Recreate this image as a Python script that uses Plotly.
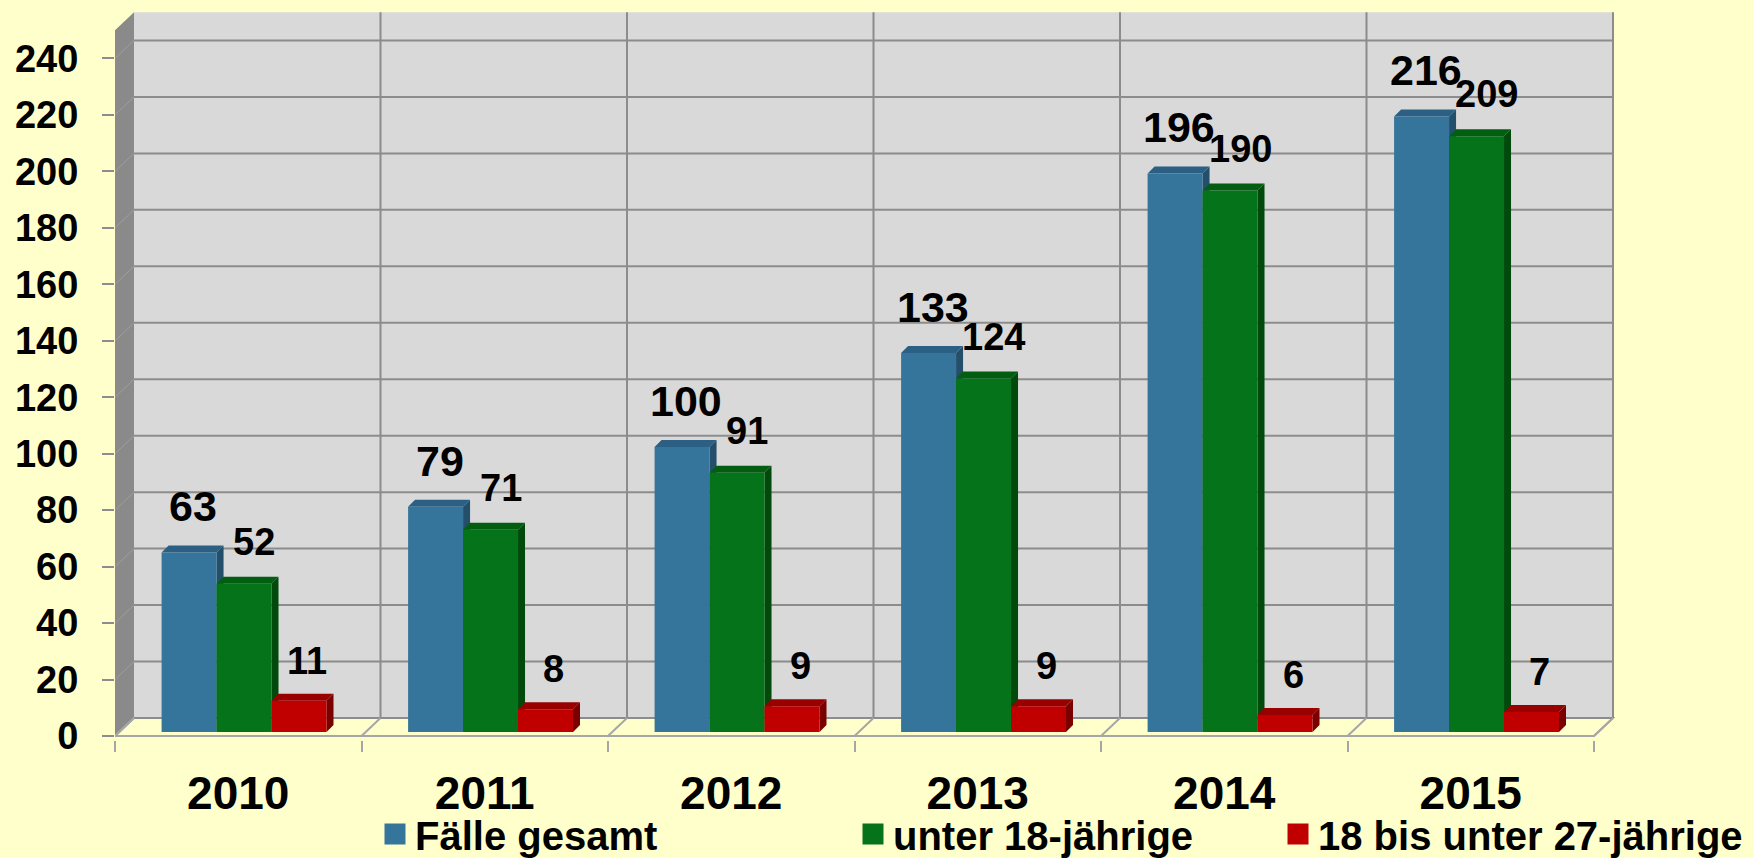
import plotly.graph_objects as go

# ---------------- data ----------------
years = [2010, 2011, 2012, 2013, 2014, 2015]
series_names = ["Fälle gesamt", "unter 18-jährige", "18 bis unter 27-jährige"]
faelle_gesamt = [63, 79, 100, 133, 196, 216]
unter_18 = [52, 71, 91, 124, 190, 209]
von_18_bis_27 = [11, 8, 9, 9, 6, 7]
y_ticks = [0, 20, 40, 60, 80, 100, 120, 140, 160, 180, 200, 220, 240]

# ---------------- styling / geometry ----------------
FONT = "Liberation Sans, Arial, sans-serif"
BG = "#FFFFCC"
WALL = "#D9D9D9"
SIDE_WALL = "#8A8A8A"
GRID = "#8C8C8C"
front_cols = ["#36759B", "#05731A", "#C00000"]
top_cols = ["#2B6084", "#035E12", "#990000"]
side_cols = ["#244F6B", "#024A0C", "#7A0000"]
label_sizes = [43, 38, 38]
label_yshift = [20, 19, 17]
label_xshift = [4, 10, 8]

L_MARGIN, R_MARGIN, T_MARGIN, B_MARGIN = 115, 130, 8, 118
W, H = 1754, 858
px_per_x = 246.5
px_per_y = 2.823          # front (axis) plane
y_zero_px = 736
bar_px_per_y = 2.85       # mid-depth plane where the bars stand
bar_zero_px = 732
plot_bottom_px = H - B_MARGIN

x0 = years[0] - 0.5
x1 = x0 + (W - L_MARGIN - R_MARGIN) / px_per_x
y_min = -(plot_bottom_px - y_zero_px) / px_per_y
y_max = (y_zero_px - T_MARGIN) / px_per_y
y2_min = -(plot_bottom_px - bar_zero_px) / bar_px_per_y
y2_max = (bar_zero_px - T_MARGIN) / bar_px_per_y

wall_dx = 19 / px_per_x
wall_dy = 18 / px_per_y
wall_top = 250 + wall_dy
bar_dx = 7 / px_per_x
bar_dy = 7 / bar_px_per_y
bar_w = 0.223
offsets = [-0.311, -0.088, 0.135]

values = [faelle_gesamt, unter_18, von_18_bis_27]
bounds = [y - 0.5 for y in years] + [years[-1] + 0.5]

fig = go.Figure()

for k, (name, vals) in enumerate(zip(series_names, values)):
    fig.add_trace(go.Bar(
        x=years, y=vals, name=name, width=bar_w, offset=offsets[k],
        marker=dict(color=front_cols[k], line=dict(width=0)),
        showlegend=False, hoverinfo="x+y+name", yaxis="y2",
    ))
    # legend proxies (bigger squares)
    fig.add_trace(go.Scatter(
        x=[None], y=[None], mode="markers", name=name,
        marker=dict(symbol="square", size=16, color=front_cols[k],
                    line=dict(color=front_cols[k], width=5)),
        legend=["legend", "legend2", "legend3"][k],
    ))

shapes = []
# side wall
shapes.append(dict(type="path", xref="x", yref="y", layer="below",
                   path=f"M{x0},0 L{x0+wall_dx},{wall_dy} L{x0+wall_dx},{wall_top} L{x0},250 Z",
                   fillcolor=SIDE_WALL, line=dict(width=0)))
# back wall
shapes.append(dict(type="rect", xref="x", yref="y", layer="below",
                   x0=x0 + wall_dx, x1=bounds[-1] + wall_dx, y0=wall_dy, y1=wall_top,
                   fillcolor=WALL, line=dict(width=0)))
# floor
shapes.append(dict(type="path", xref="x", yref="y", layer="below",
                   path=f"M{x0},0 L{bounds[-1]},0 L{bounds[-1]+wall_dx},{wall_dy} L{x0+wall_dx},{wall_dy} Z",
                   fillcolor=BG, line=dict(color="#A6A6A6", width=2)))
# horizontal gridlines on back wall + diagonals on side wall
for t in y_ticks:
    shapes.append(dict(type="line", xref="x", yref="y", layer="below",
                       x0=x0 + wall_dx, x1=bounds[-1] + wall_dx, y0=t + wall_dy, y1=t + wall_dy,
                       line=dict(color=GRID, width=2)))
    if t > 0:
        shapes.append(dict(type="line", xref="x", yref="y", layer="below",
                           x0=x0, x1=x0 + wall_dx, y0=t, y1=t + wall_dy,
                           line=dict(color="#9E9E9E", width=1)))
# vertical gridlines on back wall and floor diagonals
for b in bounds[1:]:
    shapes.append(dict(type="line", xref="x", yref="y", layer="below",
                       x0=b + wall_dx, x1=b + wall_dx, y0=wall_dy, y1=wall_top,
                       line=dict(color=GRID, width=2)))
for b in bounds:
    shapes.append(dict(type="line", xref="x", yref="y", layer="below",
                       x0=b, x1=b + wall_dx, y0=0, y1=wall_dy,
                       line=dict(color="#A6A6A6", width=2)))

# 3D faces of bars (on the bar axis y2; drawn after the walls, under the traces)
for k, vals in enumerate(values):
    for yr, v in zip(years, vals):
        xl = yr + offsets[k]
        xr = xl + bar_w
        shapes.append(dict(type="path", xref="x", yref="y2", layer="below",
                           path=f"M{xr},0 L{xr+bar_dx},{bar_dy} L{xr+bar_dx},{v+bar_dy} L{xr},{v} Z",
                           fillcolor=side_cols[k], line=dict(width=0)))
        shapes.append(dict(type="path", xref="x", yref="y2", layer="below",
                           path=f"M{xl},{v} L{xl+bar_dx},{v+bar_dy} L{xr+bar_dx},{v+bar_dy} L{xr},{v} Z",
                           fillcolor=top_cols[k], line=dict(width=0)))

annotations = []
for k, vals in enumerate(values):
    for yr, v in zip(years, vals):
        annotations.append(dict(
            x=yr + offsets[k] + bar_w / 2, y=v, xref="x", yref="y2",
            text=str(v), showarrow=False, yanchor="bottom", xanchor="center",
            yshift=label_yshift[k], xshift=label_xshift[k],
            font=dict(family=FONT, size=label_sizes[k], color="black", weight="bold"),
        ))

plot_h = H - T_MARGIN - B_MARGIN
plot_w = W - L_MARGIN - R_MARGIN
leg_y = (H - B_MARGIN - 834) / plot_h
leg_font = dict(family=FONT, size=40, color="black", weight="bold")
def leg(px):
    return dict(x=(px - L_MARGIN) / plot_w, y=leg_y, xanchor="left", yanchor="middle",
                orientation="h", bgcolor="rgba(0,0,0,0)", borderwidth=0, font=leg_font,
                itemwidth=30)

fig.update_layout(
    width=W, height=H,
    paper_bgcolor=BG, plot_bgcolor="rgba(0,0,0,0)",
    margin=dict(l=L_MARGIN, r=R_MARGIN, t=T_MARGIN, b=B_MARGIN, autoexpand=False),
    barmode="overlay",
    shapes=shapes, annotations=annotations,
    legend=leg(375), legend2=leg(853), legend3=leg(1278),
    xaxis=dict(
        range=[x0, x1], tickmode="array", tickvals=years, ticktext=[str(y) for y in years],
        ticks="", showgrid=False, zeroline=False, showline=False,
        tickfont=dict(family=FONT, size=46, color="black", weight="bold"),
        ticklabelstandoff=22,
        minor=dict(tickmode="array", tickvals=bounds, ticks="outside", ticklen=11,
                   tickwidth=2, tickcolor="#A6A6A6", showgrid=False),
    ),
    yaxis=dict(
        range=[y_min, y_max], tickmode="array", tickvals=y_ticks,
        ticks="outside", ticklen=12, tickwidth=2, tickcolor=GRID,
        showgrid=False, zeroline=False, showline=False,
        tickfont=dict(family=FONT, size=38, color="black", weight="bold"),
        ticklabelstandoff=16,
    ),
    yaxis2=dict(
        range=[y2_min, y2_max], overlaying="y", visible=False,
        showgrid=False, zeroline=False,
    ),
)

fig.write_html("out.html", config={"displayModeBar": False},
               post_script="document.body.style.margin='0';document.body.style.overflow='hidden';")
